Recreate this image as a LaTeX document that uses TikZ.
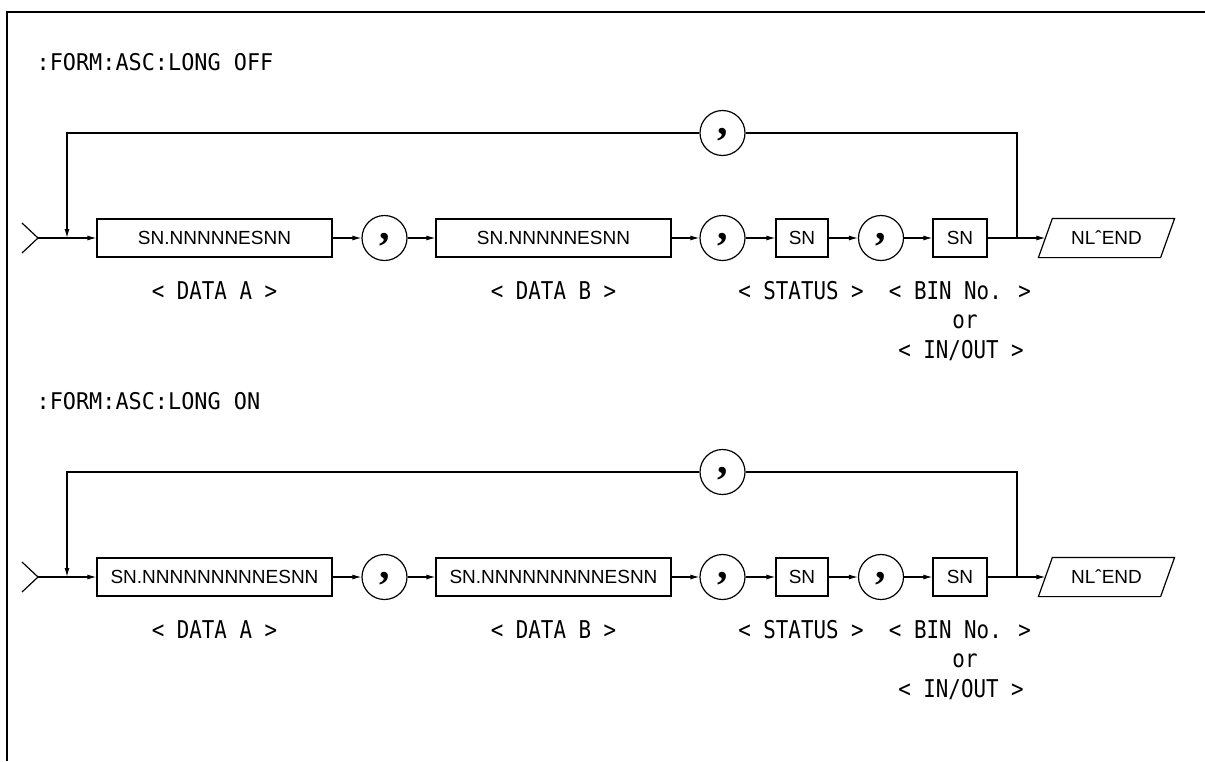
\documentclass[tikz,border=0pt]{standalone}
\usepackage{fontspec}
\setmainfont{Liberation Sans}
\newfontfamily\gothic[FakeStretch=0.85]{DejaVu Sans Mono}
\newfontfamily\titlefont[FakeStretch=0.95]{DejaVu Sans Mono}
\newfontfamily\commafont{Liberation Serif}
\usetikzlibrary{positioning,arrows.meta,calc}

\begin{document}
\begin{tikzpicture}[x=1pt,y=-1pt,line width=1.2pt,
  every node/.style={inner sep=0pt},
  field/.style={draw,minimum height=38,font=\fontsize{19}{19}\selectfont},
  sep/.style={draw,circle,minimum size=45,text height=0pt,text depth=0pt,
    font=\commafont\bfseries\fontsize{42}{42}\selectfont},
  tag/.style={font=\gothic\fontsize{24.5}{24.5}\selectfont},
  heading/.style={anchor=west,font=\titlefont\fontsize{23}{23}\selectfont},
  flow/.style={-{Latex[length=9pt,width=5pt]}}]
  \useasboundingbox (0,0) rectangle (1205,761);
  % frame
  \draw[line width=2.5pt] (7,761) -- (7,12) -- (1205,12);
  \foreach \sec/\dy/\mode/\dat in {off/0/OFF/SN.NNNNNESNN, on/339/ON/SN.NNNNNNNNNESNN}{
    \node[heading] (\sec-title) at (36,62+\dy) {:FORM:ASC:LONG \mode};
    % main path
    \coordinate (\sec-up) at (22,223+\dy);
    \coordinate (\sec-in) at (38,238+\dy);
    \coordinate (\sec-dn) at (22,253+\dy);
    \coordinate (\sec-join) at (67,238+\dy);
    \node[field,minimum width=235] (\sec-a) at (214.5,238+\dy) {\dat};
    \node[sep] (\sec-c1) at (384.5,238+\dy) {\raisebox{-1.5pt}{,}};
    \node[field,minimum width=235] (\sec-b) at (553.5,238+\dy) {\dat};
    \node[sep] (\sec-c2) at (722.5,238+\dy) {\raisebox{-1.5pt}{,}};
    \node[field,minimum width=52] (\sec-st) at (802,238+\dy) {SN};
    \node[sep] (\sec-c3) at (881,238+\dy) {\raisebox{-1.5pt}{,}};
    \node[field,minimum width=54] (\sec-bin) at (960,238+\dy) {SN};
    \coordinate (\sec-fork) at (1017,238+\dy);
    \node[field,draw=none,minimum width=121] (\sec-end) at (1106.5,238+\dy) {NLˆEND};
    \draw ($(\sec-end.south west)+(-7,0)$) -- ($(\sec-end.north west)+(7,0)$)
      -- ($(\sec-end.north east)+(7,0)$) -- ($(\sec-end.south east)+(-7,0)$) -- cycle;
    % repeat loop
    \coordinate (\sec-rt) at (1017,133+\dy);
    \coordinate (\sec-lt) at (67,133+\dy);
    \node[sep] (\sec-c0) at (722.5,133+\dy) {\raisebox{-1.5pt}{,}};
    \draw (\sec-fork) -- (\sec-rt) -- (\sec-c0);
    \draw[flow] (\sec-c0) -- (\sec-lt) -- (\sec-join);
    \draw (\sec-up) -- (\sec-in) -- (\sec-dn);
    \draw[flow] (\sec-in) -- (\sec-a);
    \draw[flow] (\sec-a) -- (\sec-c1);
    \draw[flow] (\sec-c1) -- (\sec-b);
    \draw[flow] (\sec-b) -- (\sec-c2);
    \draw[flow] (\sec-c2) -- (\sec-st);
    \draw[flow] (\sec-st) -- (\sec-c3);
    \draw[flow] (\sec-c3) -- (\sec-bin);
    \draw[flow] (\sec-bin) -- (\sec-end);
    % field names
    \node[tag] (\sec-la) at (214.5,291+\dy) {< DATA A >};
    \node[tag] (\sec-lb) at (553.5,291+\dy) {< DATA B >};
    \node[tag] (\sec-ls) at (801,291+\dy) {< STATUS >};
    \node[tag] (\sec-lbin) at (960,291+\dy) {< BIN No. >};
    \node[tag] (\sec-or) at (965,322+\dy) {or};
    \node[tag] (\sec-lio) at (961,351+\dy) {< IN/OUT >};
  }
\end{tikzpicture}
\end{document}
